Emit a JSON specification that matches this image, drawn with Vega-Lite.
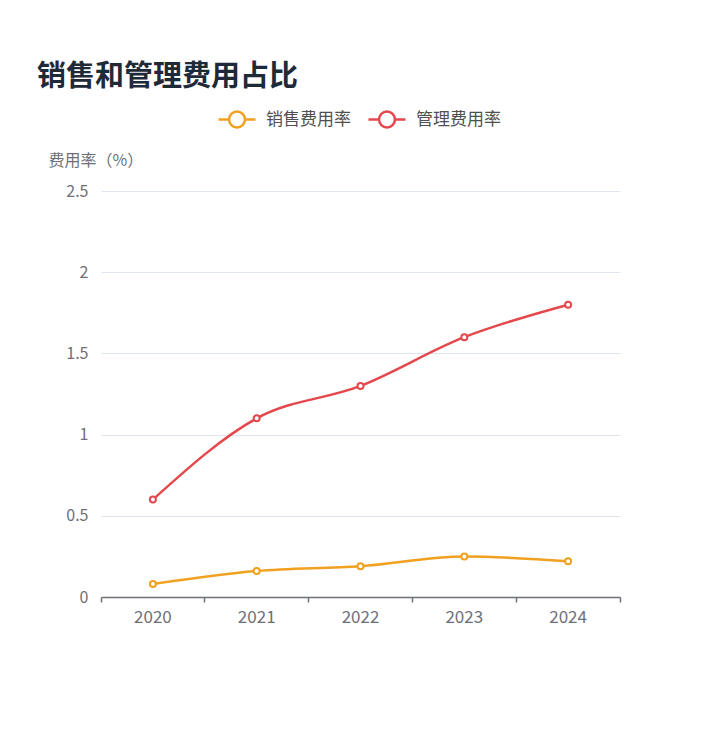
{
  "$schema": "https://vega.github.io/schema/vega-lite/v6.json",
  "width": 519,
  "height": 406,
  "autosize": {"type": "none"},
  "padding": {"left": 101, "top": 191, "right": 100, "bottom": 141},
  "background": "white",
  "title": {
    "text": "销售和管理费用占比",
    "anchor": "start",
    "frame": "group",
    "dx": -64,
    "fontSize": 29,
    "fontWeight": "bold",
    "font": "Noto Sans CJK SC",
    "color": "#1e2a38",
    "offset": 8
  },
  "data": {
    "values": [
      {"year": "2020", "series": "销售费用率", "value": 0.08},
      {"year": "2021", "series": "销售费用率", "value": 0.16},
      {"year": "2022", "series": "销售费用率", "value": 0.19},
      {"year": "2023", "series": "销售费用率", "value": 0.25},
      {"year": "2024", "series": "销售费用率", "value": 0.22},
      {"year": "2020", "series": "管理费用率", "value": 0.6},
      {"year": "2021", "series": "管理费用率", "value": 1.1},
      {"year": "2022", "series": "管理费用率", "value": 1.3},
      {"year": "2023", "series": "管理费用率", "value": 1.6},
      {"year": "2024", "series": "管理费用率", "value": 1.8}
    ]
  },
  "mark": {
    "type": "line",
    "interpolate": "monotone",
    "strokeWidth": 2.5,
    "point": {"filled": false, "fill": "white", "size": 36, "strokeWidth": 2}
  },
  "encoding": {
    "x": {
      "field": "year",
      "type": "ordinal",
      "bandPosition": 0.5,
      "scale": {"type": "band", "paddingInner": 0, "paddingOuter": 0},
      "axis": {
        "title": null,
        "labelAngle": 0,
        "bandPosition": 1,
        "tickExtra": true,
        "domainColor": "#6e7079",
        "domainWidth": 1.5,
        "tickColor": "#6e7079",
        "tickWidth": 1.5,
        "tickSize": 5,
        "labelColor": "#6e7079",
        "labelFontSize": 17,
        "labelFont": "Noto Sans CJK SC",
        "labelPadding": 7,
        "grid": false
      }
    },
    "y": {
      "field": "value",
      "type": "quantitative",
      "scale": {"domain": [0, 2.5]},
      "axis": {
        "values": [0, 0.5, 1, 1.5, 2, 2.5],
        "format": "~g",
        "title": "费用率（%）",
        "titleAngle": 0,
        "titleAlign": "left",
        "titleBaseline": "middle",
        "titleX": -53,
        "titleY": -31,
        "titleFontSize": 16,
        "titleFontWeight": "normal",
        "titleColor": "#6e7079",
        "titleFont": "Noto Sans CJK SC",
        "domain": false,
        "ticks": false,
        "labelColor": "#6e7079",
        "labelFontSize": 16,
        "labelFont": "Noto Sans CJK SC",
        "labelPadding": 13,
        "gridColor": "#e0e6f1",
        "gridWidth": 1
      }
    },
    "color": {
      "field": "series",
      "type": "nominal",
      "scale": {"domain": ["销售费用率", "管理费用率"], "range": ["#f2a01f", "#e4484c"]},
      "legend": {
        "title": null,
        "orient": "none",
        "direction": "horizontal",
        "legendX": 116,
        "legendY": -91.5,
        "symbolType": "M-1,0L-0.43,0M0.43,0L1,0M-0.43,0A0.43,0.43 0 1 0 0.43,0A0.43,0.43 0 1 0 -0.43,0",
        "symbolSize": 1369,
        "symbolStrokeWidth": 2.5,
        "symbolFillColor": "white",
        "labelFontSize": 17,
        "labelFont": "Noto Sans CJK SC",
        "labelColor": "#505050",
        "labelOffset": 9,
        "columnPadding": 12
      }
    }
  },
  "config": {"view": {"stroke": null}}
}
